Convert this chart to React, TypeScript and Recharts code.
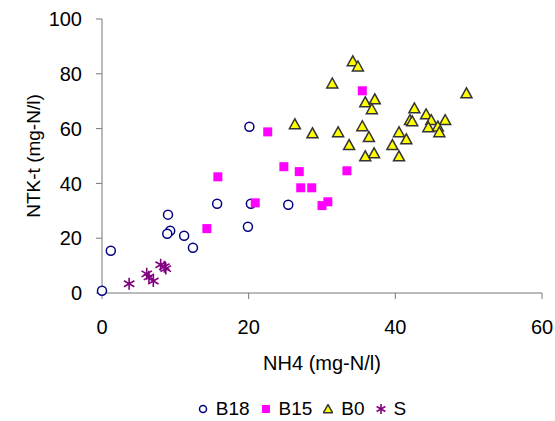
import { Legend, Scatter, ScatterChart, XAxis, YAxis } from "recharts"

// values (NH4 on x, NTK-t on y)
const b18X = [0, 1.2, 9.0, 9.3, 8.9, 11.2, 12.4, 15.7, 19.9, 20.3, 25.4, 20.1]
const b18Y = [0.8, 15.4, 28.6, 22.7, 21.6, 20.9, 16.5, 32.6, 24.2, 32.6, 32.2, 60.7]

const b15X = [14.3, 15.8, 20.9, 22.6, 24.8, 26.9, 27.1, 28.6, 30.0, 30.8, 33.4, 35.5]
const b15Y = [23.5, 42.4, 32.9, 58.8, 46.1, 44.3, 38.4, 38.4, 31.9, 33.3, 44.6, 73.8]

const b0X = [
  34.2, 34.9, 31.4, 49.7, 35.9, 37.2, 36.8, 42.6, 44.2, 44.9, 46.8, 42.0, 42.3, 44.5,
  45.8, 46.0, 28.7, 32.2, 35.5, 40.5, 36.4, 33.7, 39.6, 41.5, 37.1, 35.9, 40.5, 26.3,
]
const b0Y = [
  84.4, 82.5, 76.3, 72.7, 69.4, 70.5, 66.9, 67.2, 65.0, 62.9, 62.9, 62.9, 62.5, 60.3,
  60.6, 58.5, 58.1, 58.5, 60.7, 58.5, 56.7, 53.8, 53.8, 55.9, 50.8, 49.7, 49.7, 61.4,
]

const sX = [3.7, 6.1, 6.4, 7.0, 8.0, 8.7, 8.5]
const sY = [3.4, 7.0, 5.9, 4.4, 10.3, 8.9, 9.6]

const seriesOrder = ["B18", "B15", "B0", "S"]
const xTicks = [0, 20, 40, 60]
const yTicks = [0, 20, 40, 60, 80, 100]

const FONT = "'Liberation Sans', Arial, sans-serif"

const zip = (xs: number[], ys: number[]) => xs.map((x, i) => ({ x, y: ys[i] }))

const NAVY = "#000080"
const MAGENTA = "#ff00ff"
const YELLOW = "#ffff00"
const PURPLE = "#800080"

function circleMark(cx: number, cy: number, r: number) {
  return <circle cx={cx} cy={cy} r={r} fill="#fff" stroke={NAVY} strokeWidth={1.5} />
}

function squareMark(cx: number, cy: number, s: number) {
  return <rect x={cx - s / 2} y={cy - s / 2} width={s} height={s} fill={MAGENTA} />
}

function triangleMark(cx: number, cy: number, w: number) {
  const h = w * 0.9
  const pts = `${cx},${cy - h * 0.6} ${cx - w / 2},${cy + h * 0.4} ${cx + w / 2},${cy + h * 0.4}`
  return <polygon points={pts} fill={YELLOW} stroke="#333" strokeWidth={1.5} />
}

function starMark(cx: number, cy: number, s: number) {
  const a = s / 2
  const d = `M${cx},${cy - a}L${cx},${cy + a}M${cx - a * 0.87},${cy - a / 2}L${cx + a * 0.87},${cy + a / 2}M${cx - a * 0.87},${cy + a / 2}L${cx + a * 0.87},${cy - a / 2}`
  return <path d={d} stroke={PURPLE} strokeWidth={1.6} fill="none" />
}

const B18Shape = (p: any) => circleMark(p.cx, p.cy, 4.5)
const B15Shape = (p: any) => squareMark(p.cx, p.cy, 9)
const B0Shape = (p: any) => triangleMark(p.cx, p.cy, 11)
const SShape = (p: any) => starMark(p.cx, p.cy, 12)

const legendIcons: Record<string, (c: number) => any> = {
  B18: (c) => circleMark(c, c, 3.5),
  B15: (c) => squareMark(c, c, 8),
  B0: (c) => triangleMark(c, c + 0.5, 9),
  S: (c) => starMark(c, c, 10),
}

function renderLegend(props: any) {
  const items = [...(props.payload || [])].sort(
    (a: any, b: any) => seriesOrder.indexOf(a.value) - seriesOrder.indexOf(b.value),
  )
  return (
    <div
      style={{
        display: "flex",
        justifyContent: "center",
        paddingLeft: 60,
        fontFamily: FONT,
        fontSize: 19,
        lineHeight: "22px",
      }}
    >
      {items.map((item: any) => (
        <div key={item.value} style={{ display: "flex", alignItems: "center", marginRight: 11 }}>
          <svg width={10} height={10} style={{ marginRight: 8 }}>
            {legendIcons[item.value]?.(5)}
          </svg>
          <span>{item.value}</span>
        </div>
      ))}
    </div>
  )
}

export default function App() {
  const tick = { fontFamily: FONT, fontSize: 20, fill: "#000" }
  return (
    <div style={{ position: "absolute", left: 0, top: 0 }}>
      <ScatterChart width={555} height={421} margin={{ top: 19, right: 13, left: 0, bottom: 1 }}>
        <XAxis
          type="number"
          dataKey="x"
          domain={[0, 60]}
          ticks={xTicks}
          height={105}
          tickSize={6}
          tickMargin={21}
          stroke="#777"
          tick={tick}
          label={{ value: "NH4 (mg-N/l)", position: "insideBottom", offset: 28, style: { ...tick, textAnchor: "middle" } }}
        />
        <YAxis
          type="number"
          dataKey="y"
          domain={[0, 100]}
          ticks={yTicks}
          width={102}
          tickSize={6}
          tickMargin={14}
          stroke="#777"
          tick={tick}
          label={{
            value: "NTK-t (mg-N/l)",
            angle: -90,
            position: "insideLeft",
            offset: 33,
            style: { ...tick, fontSize: 19, textAnchor: "middle" },
          }}
        />
        <Legend verticalAlign="bottom" content={renderLegend} wrapperStyle={{ left: 0, width: 555, height: 22 }} />
        <Scatter name="B18" data={zip(b18X, b18Y)} fill={NAVY} shape={B18Shape} isAnimationActive={false} />
        <Scatter name="B15" data={zip(b15X, b15Y)} fill={MAGENTA} shape={B15Shape} isAnimationActive={false} />
        <Scatter name="B0" data={zip(b0X, b0Y)} fill={YELLOW} shape={B0Shape} isAnimationActive={false} />
        <Scatter name="S" data={zip(sX, sY)} fill={PURPLE} shape={SShape} isAnimationActive={false} />
      </ScatterChart>
    </div>
  )
}
